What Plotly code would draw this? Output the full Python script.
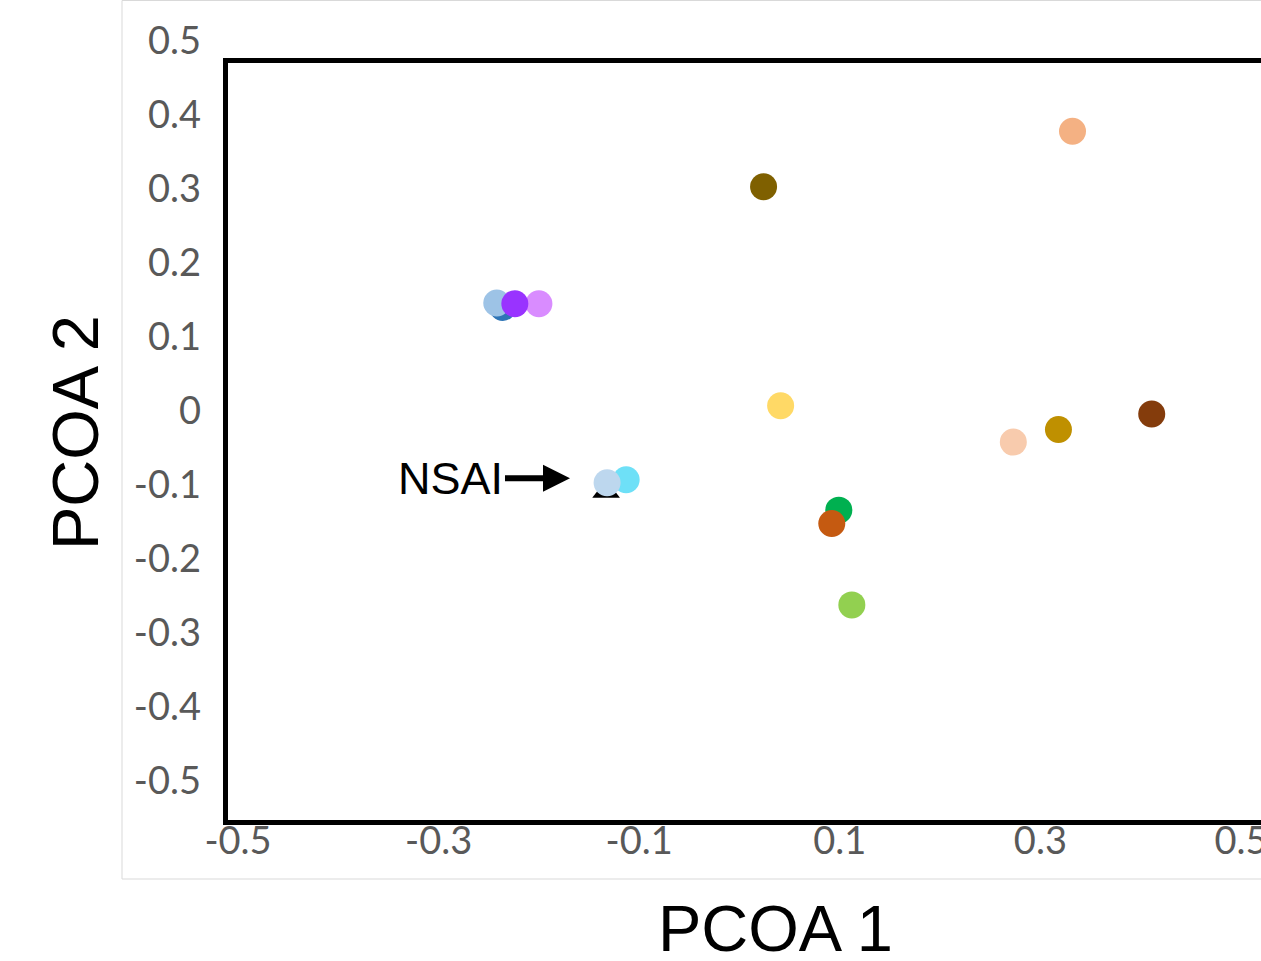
import plotly.graph_objects as go

# ---- data ----
names = ["dark blue", "light blue", "violet", "purple", "NSAI", "cyan", "pale blue",
         "green", "rust", "light peach", "gold", "dark brown", "tan", "olive",
         "yellow", "light green"]
pcoa1 = [-0.236, -0.242, -0.200, -0.224, -0.133, -0.113, -0.132,
         0.099, 0.092, 0.273, 0.318, 0.411, 0.332, 0.024, 0.041, 0.112]
pcoa2 = [0.140, 0.146, 0.145, 0.145, -0.109, -0.093, -0.097,
         -0.134, -0.152, -0.042, -0.025, -0.004, 0.378, 0.303, 0.007, -0.262]
colors = ["#2E75B6", "#9DC3E6", "#D98CFF", "#9933FF", "#000000", "#6EE0F7", "#BDD7EE",
          "#00B050", "#C55A11", "#F8CBAD", "#BF9000", "#843C0C", "#F4B183", "#7F6000",
          "#FFD966", "#92D050"]
symbols = ["circle", "circle", "circle", "circle", "triangle-up", "circle", "circle",
           "circle", "circle", "circle", "circle", "circle", "circle", "circle",
           "circle", "circle"]
sizes = [27, 27, 27, 27, 24, 27, 27, 27, 27, 27, 27, 27, 27, 27, 27, 27]

x_ticks = [-0.5, -0.3, -0.1, 0.1, 0.3, 0.5]
x_ticktext = ["-0.5", "-0.3", "-0.1", "0.1", "0.3", "0.5"]
y_ticks = [0.5, 0.4, 0.3, 0.2, 0.1, 0.0, -0.1, -0.2, -0.3, -0.4, -0.5]
y_ticktext = ["0.5", "0.4", "0.3", "0.2", "0.1", "0", "-0.1", "-0.2", "-0.3", "-0.4", "-0.5"]

x_title = "PCOA 1"
y_title = "PCOA 2"
label_text = "NSAI"
label_point = (-0.169, -0.091)

fig = go.Figure()
for n, x, y, c, s, sz in zip(names, pcoa1, pcoa2, colors, symbols, sizes):
    fig.add_trace(go.Scatter(
        x=[x], y=[y], mode="markers", name=n,
        marker=dict(color=c, symbol=s, size=sz, line=dict(width=0)),
        cliponaxis=False, showlegend=False, hoverinfo="skip"))

W, H = 1261, 961
L, R, T, B = 238, 20, 41, 180
pw, ph = W - L - R, H - T - B

def px_x(p):
    return (p - L) / pw

def px_y(p):
    return (H - B - p) / ph

shapes = [
    # outer chart-area border
    dict(type="rect", xref="paper", yref="paper",
         x0=px_x(122), x1=px_x(1300), y0=px_y(879), y1=px_y(0.5),
         line=dict(color="#D9D9D9", width=1), fillcolor="rgba(0,0,0,0)", layer="below"),
    # black plot frame
    dict(type="rect", xref="paper", yref="paper",
         x0=px_x(225.5), x1=px_x(1300), y0=px_y(822.5), y1=px_y(60.5),
         line=dict(color="black", width=5), fillcolor="rgba(0,0,0,0)", layer="below"),
]

annotations = [
    dict(text=y_title, xref="paper", yref="paper", x=px_x(76), y=px_y(433),
         textangle=-90, showarrow=False, xanchor="center", yanchor="middle",
         font=dict(family="Liberation Sans, Arial", size=65, color="black")),
    dict(text=x_title, xref="paper", yref="paper", x=px_x(775), y=px_y(928),
         showarrow=False, xanchor="center", yanchor="middle",
         font=dict(family="Liberation Sans, Arial", size=65, color="black")),
    dict(text=label_text, x=label_point[0], y=label_point[1], xref="x", yref="y",
         ax=-119, ay=0, showarrow=True, arrowhead=2, arrowwidth=6, arrowsize=0.9,
         arrowcolor="black",
         font=dict(family="Liberation Sans, Arial", size=45, color="black")),
]

tickfont = dict(family="Lato, Open Sans, sans-serif", size=38, color="#595959")

fig.update_layout(
    width=W, height=H, autosize=False,
    margin=dict(l=L, r=R, t=T, b=B, pad=0),
    paper_bgcolor="white", plot_bgcolor="white",
    shapes=shapes, annotations=annotations,
    xaxis=dict(range=[-0.5, 0.5], tickmode="array", tickvals=x_ticks, ticktext=x_ticktext,
               showgrid=False, zeroline=False, showline=False, ticks="",
               tickfont=tickfont, ticklabelstandoff=34, ticklabeloverflow="allow",
               automargin=False, fixedrange=True),
    yaxis=dict(range=[-0.5, 0.5], tickmode="array", tickvals=y_ticks, ticktext=y_ticktext,
               showgrid=False, zeroline=False, showline=False, ticks="",
               tickfont=tickfont, ticklabelstandoff=36, ticklabeloverflow="allow",
               automargin=False, fixedrange=True),
)

fig.write_html("out.html", config={"displayModeBar": False},
               post_script="document.body.style.margin='0';document.body.style.overflow='hidden';")
